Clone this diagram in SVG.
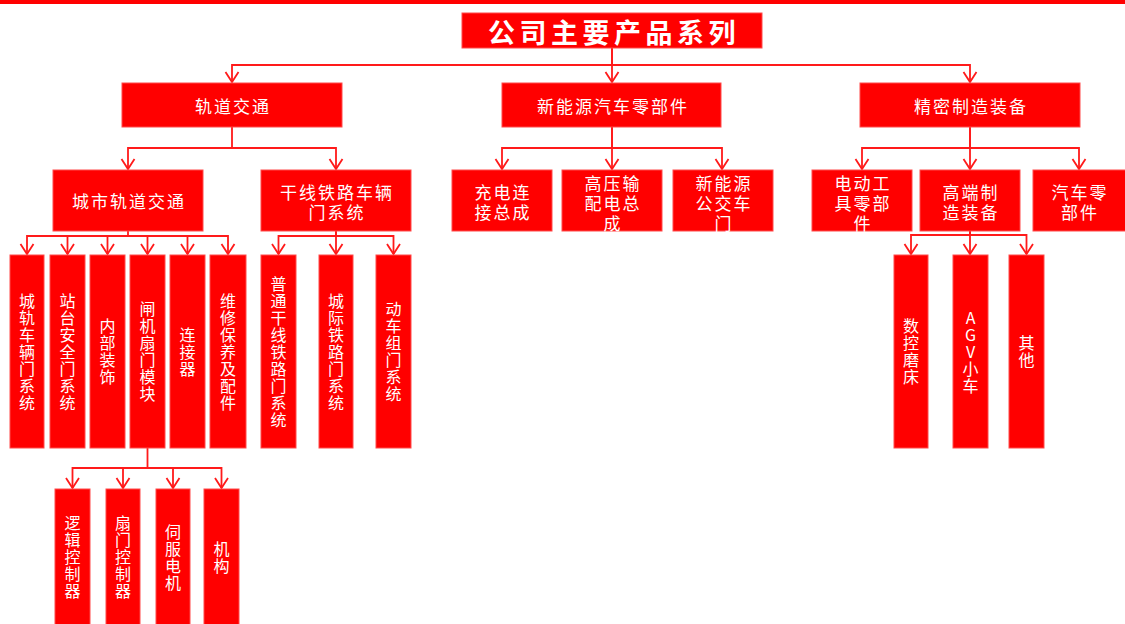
<svg xmlns="http://www.w3.org/2000/svg" width="1125" height="624" viewBox="0 0 1125 624">
<style>
.box{fill:#ff0000;stroke:#ff4a4a;stroke-width:1}
.t{fill:#fff;font-family:"Noto Sans CJK SC","Noto Sans",sans-serif;font-size:17px;letter-spacing:2px;text-anchor:middle;dominant-baseline:central}
.v{fill:#fff;font-family:"Noto Sans CJK SC","Noto Sans",sans-serif;font-size:16px;letter-spacing:1px;text-anchor:middle;writing-mode:vertical-rl;text-orientation:upright;dominant-baseline:central}
.title{fill:#fff;font-family:"Noto Sans CJK SC","Noto Sans",sans-serif;font-size:27px;font-weight:bold;letter-spacing:4.5px;text-anchor:middle;dominant-baseline:central}
.c{fill:none;stroke:#ff1a1a;stroke-width:1.8;marker-end:url(#arr)}
</style>
<defs>
<marker id="arr" markerUnits="userSpaceOnUse" markerWidth="12" markerHeight="16" viewBox="0 -8 12 16" refX="10" refY="0" orient="auto" overflow="visible">
<path d="M0,-6.5 L10,0 L0,6.5" fill="none" stroke="#ff1a1a" stroke-width="1.8"/>
</marker>
</defs>
<rect x="0" y="0" width="1125" height="4" fill="#ff0000"/>

<g id="connectors">
<path class="c" d="M612,48 V65 H232 V82"/>
<path class="c" d="M612,48 V82"/>
<path class="c" d="M612,65 H970 V82"/>
<path class="c" d="M232,127 V148 H128 V169"/>
<path class="c" d="M232,148 H336 V169"/>
<path class="c" d="M612,127 V148 H502 V169"/>
<path class="c" d="M612,127 V169"/>
<path class="c" d="M612,148 H722 V169"/>
<path class="c" d="M970,127 V148 H862 V169"/>
<path class="c" d="M970,127 V169"/>
<path class="c" d="M970,148 H1079 V169"/>
<path class="c" d="M128,231 V236 H27 V254"/>
<path class="c" d="M128,236 H67.5 V254"/>
<path class="c" d="M128,236 H107.5 V254"/>
<path class="c" d="M128,236 H147.5 V254"/>
<path class="c" d="M128,236 H187.5 V254"/>
<path class="c" d="M128,236 H228 V254"/>
<path class="c" d="M336,231 V236 H278.5 V254"/>
<path class="c" d="M336,231 V254"/>
<path class="c" d="M336,236 H393.5 V254"/>
<path class="c" d="M970,231 V235 H911 V254"/>
<path class="c" d="M970,231 V254"/>
<path class="c" d="M970,235 H1026.5 V254"/>
<path class="c" d="M147.5,448 V468 H72.5 V488"/>
<path class="c" d="M147.5,468 H123 V488"/>
<path class="c" d="M147.5,468 H173 V488"/>
<path class="c" d="M147.5,468 H221.5 V488"/>
</g>

<g id="title"><rect class="box" x="462" y="13" width="300" height="35"/><text class="title" x="614" y="31">公司主要产品系列</text></g>

<g id="n-gdjt"><rect class="box" x="122" y="83" width="220" height="44"/><text class="t" x="233" y="105">轨道交通</text></g>
<g id="n-xny"><rect class="box" x="502" y="83" width="219" height="44"/><text class="t" x="613" y="105">新能源汽车零部件</text></g>
<g id="n-jmzz"><rect class="box" x="860" y="83" width="220" height="44"/><text class="t" x="971" y="105">精密制造装备</text></g>

<g id="n-csgd"><rect class="box" x="53" y="170" width="150" height="61"/><text class="t" x="129" y="200.5">城市轨道交通</text></g>
<g id="n-gxtl"><rect class="box" x="261" y="170" width="150" height="61"/><text class="t"><tspan x="337" y="191">干线铁路车辆</tspan><tspan x="337" y="211">门系统</tspan></text></g>
<g id="n-cd"><rect class="box" x="452" y="170" width="100" height="61"/><text class="t"><tspan x="503" y="191">充电连</tspan><tspan x="503" y="211">接总成</tspan></text></g>
<g id="n-gy"><rect class="box" x="562" y="170" width="100" height="61"/><text class="t"><tspan x="613" y="182">高压输</tspan><tspan x="613" y="202">配电总</tspan><tspan x="613" y="222">成</tspan></text></g>
<g id="n-gj"><rect class="box" x="673" y="170" width="100" height="61"/><text class="t"><tspan x="724" y="182">新能源</tspan><tspan x="724" y="202">公交车</tspan><tspan x="724" y="222">门</tspan></text></g>
<g id="n-dd"><rect class="box" x="812" y="170" width="100" height="61"/><text class="t"><tspan x="863" y="182">电动工</tspan><tspan x="863" y="202">具零部</tspan><tspan x="863" y="222">件</tspan></text></g>
<g id="n-gd"><rect class="box" x="920" y="170" width="100" height="61"/><text class="t"><tspan x="971" y="191">高端制</tspan><tspan x="971" y="211">造装备</tspan></text></g>
<g id="n-qc"><rect class="box" x="1033" y="170" width="94" height="61"/><text class="t"><tspan x="1080" y="191">汽车零</tspan><tspan x="1080" y="211">部件</tspan></text></g>

<g id="n-cgcl"><rect class="box" x="10" y="255" width="34" height="193"/><text class="v" x="27" y="352">城轨车辆门系统</text></g>
<g id="n-ztaq"><rect class="box" x="50" y="255" width="35" height="193"/><text class="v" x="67.5" y="352">站台安全门系统</text></g>
<g id="n-nbzs"><rect class="box" x="90" y="255" width="35" height="193"/><text class="v" x="107.5" y="352">内部装饰</text></g>
<g id="n-zjsm"><rect class="box" x="130" y="255" width="35" height="193"/><text class="v" x="147.5" y="352">闸机扇门模块</text></g>
<g id="n-ljq"><rect class="box" x="170" y="255" width="35" height="193"/><text class="v" x="187.5" y="352">连接器</text></g>
<g id="n-wxby"><rect class="box" x="210" y="255" width="36" height="193"/><text class="v" x="228" y="352">维修保养及配件</text></g>
<g id="n-ptgx"><rect class="box" x="261" y="255" width="35" height="193"/><text class="v" x="278.5" y="352">普通干线铁路门系统</text></g>
<g id="n-cjtl"><rect class="box" x="319" y="255" width="34" height="193"/><text class="v" x="336" y="352">城际铁路门系统</text></g>
<g id="n-dcz"><rect class="box" x="376" y="255" width="35" height="193"/><text class="v" x="393.5" y="352">动车组门系统</text></g>

<g id="n-skmc"><rect class="box" x="894" y="255" width="34" height="193"/><text class="v" x="911" y="352">数控磨床</text></g>
<g id="n-agv"><rect class="box" x="953" y="255" width="35" height="193"/><text class="v" x="970.5" y="352">AGV小车</text></g>
<g id="n-qt"><rect class="box" x="1009" y="255" width="35" height="193"/><text class="v" x="1026.5" y="352">其他</text></g>

<g id="n-ljkz"><rect class="box" x="55" y="489" width="35" height="140"/><text class="v" x="72.5" y="557.5">逻辑控制器</text></g>
<g id="n-smkz"><rect class="box" x="106" y="489" width="34" height="140"/><text class="v" x="123" y="557.5">扇门控制器</text></g>
<g id="n-sfdj"><rect class="box" x="156" y="489" width="34" height="140"/><text class="v" x="173" y="557.5">伺服电机</text></g>
<g id="n-jg"><rect class="box" x="204" y="489" width="35" height="140"/><text class="v" x="221.5" y="557.5">机构</text></g>
</svg>
